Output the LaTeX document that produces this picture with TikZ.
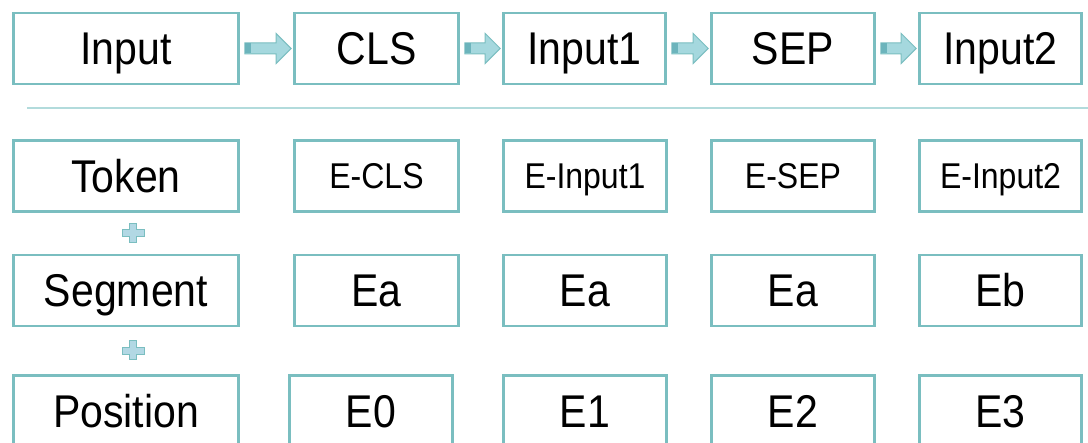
\documentclass[tikz,border=0pt]{standalone}
\usepackage{fontspec}
\usepackage{graphicx}
\setmainfont{Liberation Sans}
\usetikzlibrary{calc}

\definecolor{edgeteal}{RGB}{122,190,192}
\definecolor{arrowfill}{RGB}{165,216,222}
\definecolor{arrowdark}{RGB}{108,180,188}
\definecolor{ruleteal}{RGB}{178,219,220}
\definecolor{plusfill}{RGB}{178,216,228}

% slightly tall lettering
\newcommand\lbl[1]{\scalebox{1}[1.12]{#1}}

\tikzset{
  box/.style={draw=edgeteal, line width=2.6pt, fill=white, inner sep=0pt,
    minimum height=71pt, text height=32.9pt, text depth=0pt,
    font=\fontsize{41}{41}\selectfont},
  smallbox/.style={box, text height=25.7pt, font=\fontsize{32}{32}\selectfont},
  flowshape/.style={draw=edgeteal, fill=arrowfill, line width=1pt, line join=miter},
  plusshape/.style={draw=edgeteal, fill=plusfill, line width=0.8pt},
}

% block arrow from one node to the next
\newcommand\flowarrow[2]{%
  \path let \p1=(#1.east), \p2=(#2.west) in
    [flowshape]
    (\x1+5pt,\y1+5.5pt) -- (\x2-17pt,\y1+5.5pt) -- (\x2-17pt,\y1+15pt)
    -- (\x2-2pt,\y1) -- (\x2-17pt,\y1-15pt) -- (\x2-17pt,\y1-5.5pt)
    -- (\x1+5pt,\y1-5.5pt) -- cycle;
  \path let \p1=(#1.east) in
    [fill=arrowdark] (\x1+5.5pt,\y1+5pt) rectangle (\x1+11pt,\y1-5pt);
}

% plus sign between two stacked nodes
\newcommand\plusmark[3]{%
  \path let \p1=(#1.south), \p2=(#2.north) in
    [plusshape, shift={(\x1+#3,0.5*\y1+0.5*\y2)}]
    (-3.5pt,10pt) -- (3.5pt,10pt) -- (3.5pt,3.5pt) -- (11pt,3.5pt)
    -- (11pt,-3.5pt) -- (3.5pt,-3.5pt) -- (3.5pt,-9pt) -- (-3.5pt,-9pt)
    -- (-3.5pt,-3.5pt) -- (-11pt,-3.5pt) -- (-11pt,3.5pt) -- (-3.5pt,3.5pt) -- cycle;
}

\begin{document}
\begin{tikzpicture}[x=1pt, y=-1pt]
  \useasboundingbox (0,0) rectangle (1088,443);
  \fill[white] (0,0) rectangle (1088,443);
  \clip (0,0) rectangle (1088,443);

  % sequence row
  \node[box, minimum width=225pt] (input)  at (126,48.5)   {\lbl{Input}};
  \node[box, minimum width=164pt] (cls)    at (376.5,48.5) {\lbl{CLS}};
  \node[box, minimum width=162pt] (inone)  at (584.5,48.5) {\lbl{Input1}};
  \node[box, minimum width=163pt] (sep)    at (793,48.5)   {\lbl{SEP}};
  \node[box, minimum width=162pt] (intwo)  at (1000.5,48.5){\lbl{Input2}};

  \flowarrow{input}{cls}
  \flowarrow{cls}{inone}
  \flowarrow{inone}{sep}
  \flowarrow{sep}{intwo}

  % divider
  \coordinate (ruleL) at (27,108);
  \coordinate (ruleR) at (1088,108);
  \draw[ruleteal, line width=2pt] (ruleL) -- (ruleR);

  % token embeddings
  \node[box, minimum width=225pt]      (tok)  at (126,176)    {\lbl{Token}};
  \node[smallbox, minimum width=164pt] (tcls) at (376.5,176)  {\lbl{E-CLS}};
  \node[smallbox, minimum width=163pt] (tone) at (585,176)    {\lbl{E-Input1}};
  \node[smallbox, minimum width=163pt] (tsep) at (793,176)    {\lbl{E-SEP}};
  \node[smallbox, minimum width=162pt] (ttwo) at (1000.5,176) {\lbl{E-Input2}};

  % segment embeddings
  \node[box, minimum width=225pt] (seg)  at (126,290.5)    {\lbl{Segment}};
  \node[box, minimum width=164pt] (sa)   at (376.5,290.5)  {\lbl{Ea}};
  \node[box, minimum width=163pt] (sb)   at (585,290.5)    {\lbl{Ea}};
  \node[box, minimum width=163pt] (sc)   at (793,290.5)    {\lbl{Ea}};
  \node[box, minimum width=162pt] (sd)   at (1000.5,290.5) {\lbl{Eb}};

  % position embeddings
  \node[box, minimum width=225pt] (pos)  at (126,411)    {\lbl{Position}};
  \node[box, minimum width=163pt] (pa)   at (371,411)    {\lbl{E0}};
  \node[box, minimum width=163pt] (pb)   at (585,411)    {\lbl{E1}};
  \node[box, minimum width=163pt] (pc)   at (793,411)    {\lbl{E2}};
  \node[box, minimum width=162pt] (pd)   at (1000.5,411) {\lbl{E3}};

  \plusmark{tok}{seg}{7pt}
  \plusmark{seg}{pos}{7pt}
\end{tikzpicture}
\end{document}
